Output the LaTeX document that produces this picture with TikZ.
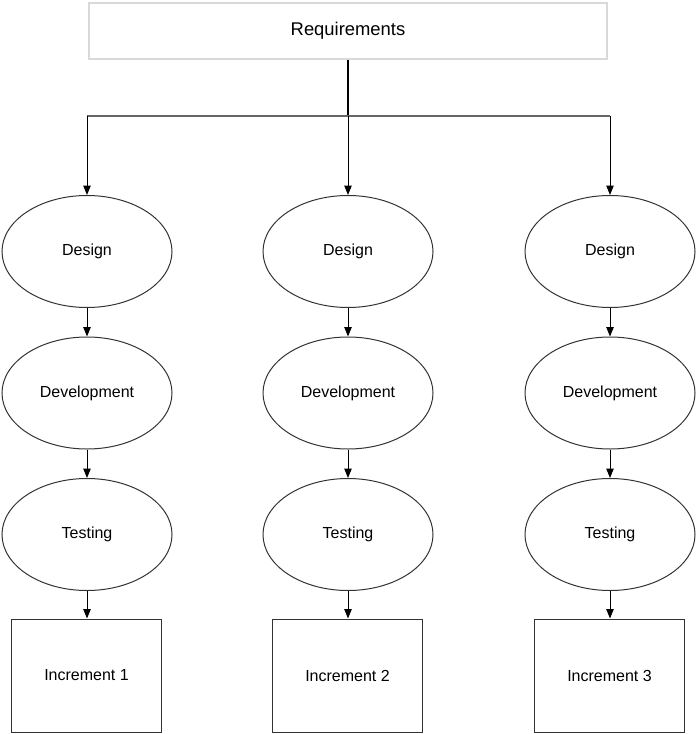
\documentclass[tikz,border=0pt]{standalone}
\usepackage{fontspec}
\setmainfont{Liberation Sans}
\usetikzlibrary{shapes.geometric,arrows.meta}
\begin{document}
\begin{tikzpicture}[x=0.75pt,y=-0.75pt,
  stage/.style={draw=black!80,line width=0.75pt,ellipse,minimum width=127.5pt,minimum height=84pt,inner sep=0pt,font=\fontsize{12}{14}\selectfont},
  incbox/.style={draw=black!80,line width=0.75pt,minimum width=112.5pt,minimum height=84.75pt,inner sep=0pt,font=\fontsize{12}{14}\selectfont},
  reqbox/.style={draw=black!15,fill=white,line width=0.9pt,minimum width=388.5pt,minimum height=42pt,inner sep=0pt,font=\fontsize{13.8}{16}\selectfont},
  arr/.style={line width=0.75pt,-{Triangle[length=7pt,width=5.5pt]}},
  feed/.style={line width=0.9pt,draw=black!60}
]
\useasboundingbox (0,0) rectangle (696,734);
\node[reqbox] (req) at (348,31) {Requirements};
\coordinate (split) at (348,116);
\coordinate (lft) at (87,116);
\coordinate (rgt) at (610,116);
\foreach \c/\x/\n in {a/87/1,b/348/2,c/610/3}{
  \node[stage] (des\c) at (\x,251.5) {Design};
  \node[stage] (dev\c) at (\x,393) {Development};
  \node[stage] (tst\c) at (\x,534.5) {Testing};
  \node[incbox] (inc\c) at (\x-0.5,675.5) {Increment \n};
  \draw[arr] (des\c) -- (dev\c);
  \draw[arr] (dev\c) -- (tst\c);
  \draw[arr] (tst\c) -- (inc\c.north -| tst\c);
}
\draw[line width=1.5pt] (req.south) -- (split);
\draw[feed] (lft) -- (rgt);
\draw[arr] (lft) -- (desa);
\draw[arr] (split) -- (desb);
\draw[arr] (rgt) -- (desc);
\end{tikzpicture}
\end{document}
